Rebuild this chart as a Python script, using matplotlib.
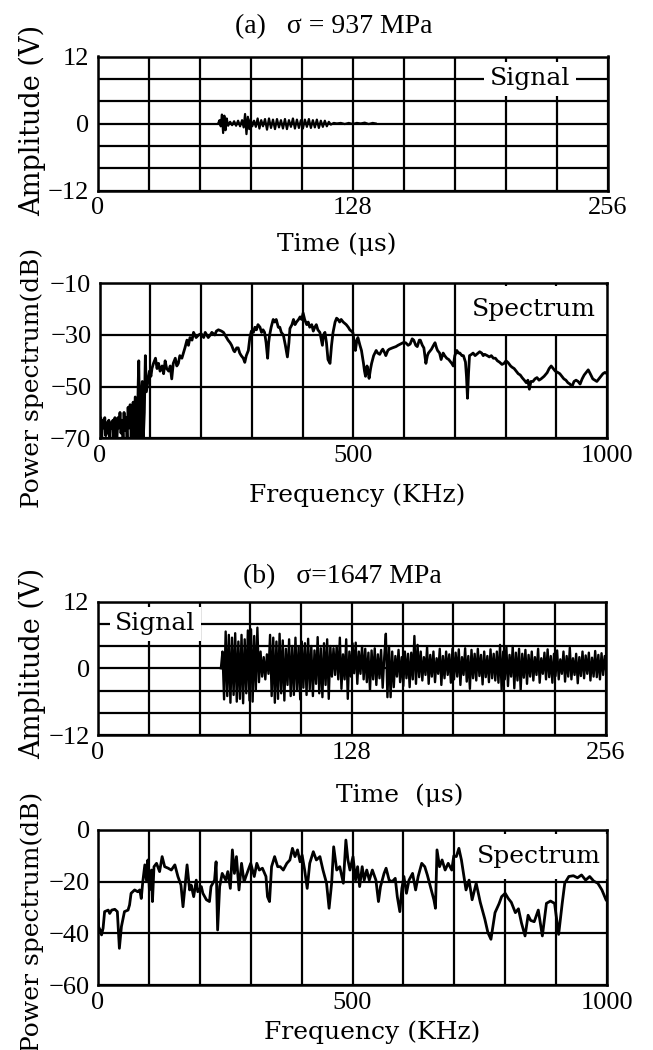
import matplotlib
matplotlib.use("Agg")
import matplotlib.pyplot as plt
import numpy as np

# ---------------- data ----------------
titles = ["(a)   σ = 937 MPa", "(b)   σ=1647 MPa"]
time_ticks = [0, 128, 256]
freq_ticks = [0, 500, 1000]
amp_ticks = [-12, 0, 12]
spec_a_ticks = [-70, -50, -30, -10]
spec_b_ticks = [-60, -40, -20, 0]

# (a) signal : burst times (us) and amplitudes (V)
sig_a_t = [60.5, 61.2, 61.8, 62.4, 63.0, 63.6, 64.2, 64.8, 65.5, 66.5, 67.5, 68.5, 69.5,
           70.5, 71.5, 72.5, 73.3, 74.0, 74.7, 75.4, 76.1, 76.8, 77.6, 78.5, 79.4, 80.3,
           81.2, 82.1, 83.0, 84.0, 85.0, 86.0, 87.0, 88.0, 89.0, 90.0, 91.0, 92.0, 93.0,
           94.0, 95.0, 96.0, 97.0, 98.0, 99.0, 100.0, 101.0, 102.0, 103.0, 104.0, 105.0,
           106.0, 107.0, 108.0, 109.0, 110.0, 111.0, 112.0, 113.0, 114.0, 115.0, 116.0,
           117.0, 118.5, 120, 122, 124, 126, 128, 130, 132, 134, 136, 138, 139.5]
sig_a_v = [0, 0.6, -0.5, 1.6, -1.7, 1.4, -1.2, 0.9, -0.4, 0.3, -0.3, 0.4, -0.4,
           0.5, -0.5, 0.6, -0.7, 1.7, -1.9, 1.2, -1.0, 0.8, -0.5, 0.5, -0.6, 0.9,
           -0.9, 0.6, -0.5, 0.8, -1.1, 0.9, -0.8, 0.7, -1.0, 0.8, -0.7, 0.6, -0.9,
           0.8, -1.0, 0.6, -0.6, 0.9, -0.9, 0.7, -0.8, 0.6, -0.9, 0.7, -0.6,
           0.8, -0.8, 0.6, -0.7, 0.7, -0.8, 0.5, -0.6, 0.5, -0.5, 0.3,
           -0.2, 0.1, 0, 0.1, -0.1, 0.1, -0.1, 0.1, 0, 0.15, -0.1, 0.1, 0]

# (b) signal : samples from 62 us every 0.8 us (V)
sig_b_start = 62.0
sig_b_step = 0.8
sig_b_v = [0, 3.0, -5.6,
           6.6, -5.0, 6.0, -6.2, 5.5, -4.8, 6.3, -6.0, 4.8, -5.5, 6.0, -6.3, 5.2, -4.5, 6.8,
           -5.8, 7.0, -6.0,
           5.8, -4.0, 7.3, -2.5, 3.0, -1.5, 2.0, -2.0, 2.5, -1.0,
           6.0, -5.0, 5.5, -6.2, 4.8, -5.5, 6.2,
           -4.5, 5.0, -5.8, 3.5, -3.0, 5.2, -5.0, 4.0, -4.8, 5.5, -4.0, 3.8, -5.6, 4.8, -3.5, 4.5,
           -4.8, 5.3, -3.8, 4.0, -5.0, 3.2, -2.8, 5.6, -4.5, 3.6, -5.2, 4.5, -3.0,
           5.2, -5.5, 4.0, -1.5, 3.6, -1.2, 4.0, -2.0,
           5.5, -3.7, 2.5, -2.0, 5.2, -5.5, 3.0, -1.5, 4.5,
           -0.9, 4.6, -2.8, 3.0, -1.0, 4.0, -2.0,
           3.5, -2.5, 2.8, -4.0, 3.2, -2.0, 3.6, -3.0, 2.5, -1.8, 3.3, -3.5, 2.0,
           6.2, -5.2, 4.0, -5.2,
           3.0, -3.4, 2.2, -1.5, 3.3, -2.5, 2.0, -3.2, 3.0, -1.8, 2.6, -3.4, 2.8, -2.0,
           5.8, -2.8, 4.2, -1.6,
           3.0, -2.2, 2.0, -1.2, 3.8, -2.8, 2.4, -1.5, 3.0, -2.5, 1.8, -1.0, 3.5, -3.0, 2.2,
           -1.8, 3.0, -1.2, 2.5, -2.6,
           3.5, -2.0, 2.8, -1.5, 3.4, -3.0, 2.0, -1.2, 3.6, -2.4, 2.2, -3.7, 3.3, -1.8, 2.6,
           -2.2, 3.5, -1.4, 2.4, -2.9, 3.0, -1.6, 2.2, -2.5, 3.4,
           -1.8, 2.6, -2.2, 3.0, -2.6,
           4.2, -3.9, 3.0, -2.0, 3.8, -3.2, 2.4, -1.5, 4.0, -3.6, 2.8, -2.2, 3.5, -3.9, 2.6,
           -1.7, 3.3, -2.8, 2.4,
           -1.5, 3.0, -2.2, 2.0, -1.2, 3.5, -2.6, 1.8, -1.0, 2.8, -2.0, 3.4, -1.6, 2.2, -2.6,
           2.6, -1.4, 3.2, -2.0, 1.6, -1.0, 3.0, -2.4, 2.2, -1.5, 3.7, -2.0, 1.8, -1.2, 2.6,
           -2.7, 2.0, -1.4, 3.0, -1.8, 2.3, -1.0, 2.8, -2.2, 1.9, -1.5, 3.1, -1.6, 2.4, -2.0,
           2.7, -1.2, 2.2, -0.8]

# (a) spectrum : frequency (kHz), power (dB)
spec_a_f = [0, 2, 4, 6, 8, 10, 12, 14, 16, 18, 20, 22, 24, 26, 28, 30, 32, 34, 36, 38, 40,
            42, 44, 46, 48, 50, 52, 54, 56, 58, 60, 62, 64, 66, 68, 70, 72, 74, 76, 77, 78,
            80, 82, 84, 86, 88, 90, 92, 95, 98, 101, 103, 106, 110, 113, 116, 119, 123, 126,
            129, 132, 136, 139, 142, 145, 149, 152, 155, 158, 162, 165, 168, 172, 175, 178,
            182, 185, 190, 195, 200, 205, 208, 214, 218, 221, 227, 230, 234, 240, 244, 247,
            253, 257, 260, 264, 266, 270, 273, 276, 279, 283, 286, 289, 293, 296, 299, 303,
            306, 309, 312, 316, 319, 322, 325, 328, 331, 333, 335, 338, 342, 345, 348, 352,
            355, 358, 362, 366, 370, 373, 375, 379, 382, 385, 388, 392, 395, 398, 401, 404,
            408, 411, 414, 418, 421, 424, 427, 430, 434, 436, 439, 441, 444, 447, 450, 454,
            457, 460, 464, 467, 470, 473, 476, 480, 483, 486, 490, 493, 496, 499, 502, 504,
            507, 509, 513, 516, 520, 522, 524, 527, 529, 531, 534, 536, 540, 545, 548, 552,
            556, 558, 562, 564, 568, 571, 577, 584, 588, 593, 598, 603, 608, 612, 616, 619,
            623, 626, 630, 632, 636, 639, 641, 643, 646, 648, 654, 658, 661, 664, 666, 670,
            673, 677, 680, 684, 688, 690, 694, 697, 700, 704, 707, 710, 714, 717, 721, 723,
            725, 727, 729, 733, 736, 740, 743, 746, 749, 753, 756, 759, 764, 768, 772, 776,
            780, 784, 788, 793, 797, 801, 805, 810, 813, 817, 821, 825, 829, 833, 837, 841,
            844, 847, 850, 854, 858, 862, 866, 870, 876, 882, 886, 890, 894, 898, 903, 907,
            911, 915, 919, 923, 927, 931, 935, 939, 943, 947, 951, 955, 959, 963, 967, 972,
            976, 980, 984, 988, 992, 996, 1000]
spec_a_db = [-70, -62, -70, -63, -66, -62, -69, -64, -68, -63, -70, -64, -66, -63, -70, -62,
             -68, -70, -62, -66, -60, -68, -63, -70, -60, -67, -62, -70, -58, -66, -57, -70,
             -60, -56, -70, -54, -62, -70, -48, -40, -55, -70, -52, -48, -70, -60, -38, -52,
             -48, -44, -46, -43, -41, -39, -43, -41, -44, -42, -45, -40, -43, -44, -42, -47,
             -41, -39, -42, -41, -38, -39, -37, -35, -32, -34, -31, -32, -29, -31, -30, -29.5,
             -31, -29, -31, -30, -29, -30, -28.5, -28, -28.5, -29, -30, -32, -33, -34, -36,
             -36.5, -35, -35, -37, -38, -39, -40.6, -38, -36, -31, -28.5, -29, -27, -28, -26,
             -27, -29, -28, -29, -33, -39, -33, -30, -27, -24, -25, -24, -27, -27, -29, -30,
             -34, -38.5, -33, -27.5, -26, -24, -26, -25, -24, -23, -24, -21.5, -24, -26, -25,
             -27, -26, -28.5, -27, -26, -28, -29, -31, -34, -30, -29, -33, -39.5, -41, -34,
             -29, -25, -23.5, -24, -25, -24, -25, -25.5, -26, -27, -28, -28.5, -29, -33, -36,
             -32, -31, -34, -36, -41, -44, -46, -42, -44, -46.8, -43, -41, -38, -36, -37,
             -37.5, -36, -35.5, -37, -38, -36, -35.5, -35, -34.5, -34, -33.5, -33, -33, -34,
             -33.5, -31.5, -32, -34, -34.5, -32, -32, -34, -35, -38, -41, -38, -37, -35.5,
             -34, -33, -35, -36, -37, -39.5, -37, -38, -39, -39.5, -40, -41, -42, -38, -36,
             -37, -37, -38, -38, -40.5, -46, -54.5, -45, -38, -37.5, -37, -38, -37.5, -37,
             -36.5, -37, -38, -37.5, -38, -38.5, -38, -39, -39, -40, -40.5, -41.4, -41, -40,
             -40.7, -42, -42.5, -43, -44, -45, -45.5, -46.6, -47.5, -48.5, -47.5, -51, -48,
             -48, -47, -46.5, -47.5, -47, -46, -44.6, -43, -42, -43, -44, -44.5, -45, -46,
             -47, -47.5, -48.5, -49, -50, -48, -47.5, -48, -49, -47, -45.5, -44.5, -43.5,
             -45, -47, -47.5, -48, -47, -46, -45, -44.5, -45]

# (b) spectrum : frequency (kHz), power (dB)
spec_b_f = [0, 1, 4, 7, 10, 13, 20, 23, 27, 33,
            38, 42, 46, 52, 59, 62, 65, 72, 78, 82,
            85, 88, 92, 95, 98, 101, 105, 107, 110, 115,
            121, 126, 131, 138, 144, 151, 157, 163, 167, 172,
            175, 180, 183, 188, 193, 196, 203, 206, 213, 219,
            222, 229, 232, 235, 239, 244, 251, 255, 260, 264,
            268, 272, 277, 282, 287, 294, 300, 307, 312, 317,
            323, 330, 333, 337, 341, 347, 353, 358, 364, 371,
            377, 382, 387, 392, 397, 401, 406, 411, 416, 423,
            429, 436, 442, 449, 454, 459, 463, 469, 475, 482,
            487, 491, 495, 501, 506, 510, 514, 519, 523, 528,
            533, 539, 546, 551, 555, 562, 566, 572, 578, 584,
            588, 593, 597, 601, 606, 611, 618, 624, 629, 636,
            642, 647, 653, 660, 663, 666, 671, 676, 682, 688,
            695, 699, 704, 709, 714, 717, 723, 729, 735, 743,
            751, 760, 766, 772, 780, 788, 793, 800, 806, 812,
            820, 826, 832, 839, 845, 850, 857, 865, 869, 873,
            881, 889, 897, 905, 912, 917, 925, 934, 942, 950,
            958, 966, 974, 982, 990, 998, 1000]
spec_b_db = [-27, -37.4, -38.7, -40.6, -38, -31.6, -31, -32.3, -31, -30.7,
             -31.6, -45.8, -37.4, -31.6, -31, -29, -24.5, -23.2, -23.9, -23.2,
             -26.5, -20, -13.5, -19.4, -11.6, -23.2, -15.5, -27.7, -14.2, -12.9,
             -16.1, -10.3, -14.2, -14.8, -15.5, -13.5, -18, -21.3, -29.7, -19.4,
             -13.5, -23.2, -21.3, -25.8, -19.4, -23.9, -21.9, -24.5, -27, -27.7,
             -21.9, -19.4, -12.3, -38.7, -21.9, -16.8, -19.4, -16.1, -22.6, -7.7,
             -16.8, -10.3, -23.2, -12.9, -20, -16.1, -12.9, -18, -12.9, -15.5,
             -14.8, -18, -25.8, -27.7, -14.2, -10.3, -14.2, -14.2, -15.5, -12.9,
             -11.6, -7.1, -10.3, -7.7, -12.3, -9.7, -15.5, -22.6, -12.9, -8.4,
             -11.6, -10.3, -15.5, -20.6, -30.3, -20.6, -6.5, -15.5, -14.2, -20.6,
             -3.9, -11.6, -15.5, -10.3, -19.4, -14.2, -21.9, -14.2, -19.4, -15.5,
             -19.4, -15.5, -19.4, -27.7, -21.9, -16.8, -14.8, -19.4, -20, -18.7,
             -25.8, -31.6, -22.6, -18, -24.5, -19.4, -16.8, -23.2, -18, -12.9,
             -14.2, -17.4, -21.9, -27.1, -30.3, -7.7, -14.2, -11.6, -15.5, -12.9,
             -15.5, -10, -10.3, -7.1, -11.6, -15.5, -23.2, -19.4, -27, -20.6,
             -28, -34.5, -39.7, -42.3, -32, -28.5, -25.8, -24.5, -26.5, -28,
             -32, -30.5, -36, -41, -33, -35, -35.5, -31, -36, -41,
             -28.4, -27.5, -28.4, -40.4, -28.4, -20.6, -18, -17.7, -18.5, -17.4,
             -19.4, -18, -19.8, -20.6, -23.2, -27, -27.5]

# ---------------- figure ----------------
W, H = 653, 1050
fig = plt.figure(figsize=(W / 100, H / 100), dpi=100)
fig.patch.set_facecolor("white")

TICKFONT = dict(family="Liberation Serif", size=19)
LABFONT = dict(family="DejaVu Serif", size=18)
AMPFONT = dict(family="DejaVu Serif", size=19.5)


def px_axes(l, t, r, b):
    return fig.add_axes([l / W, 1 - b / H, (r - l) / W, (b - t) / H])


def style(ax, xgrid, xlabels, ygrid, ylabels):
    ax.set_xticks(xgrid)
    ax.set_xticklabels(xlabels, **TICKFONT)
    ax.set_yticks(ygrid)
    ax.set_yticklabels(ylabels, **TICKFONT)
    ax.tick_params(axis="y", length=0, pad=6)
    ax.tick_params(axis="x", length=0, pad=5)
    ax.grid(True, color="black", linewidth=1.6)
    ax.set_axisbelow(True)
    for s in ax.spines.values():
        s.set_linewidth(1.8)


def fmt(v):
    return str(v).replace("-", "\u2212")


def tick_labels(grid, shown):
    return [fmt(g) if g in shown else "" for g in grid]


time_grid = [25.6 * i for i in range(11)]
time_grid_lab = [fmt(time_ticks[[0, 5, 10].index(i)]) if i in (0, 5, 10) else "" for i in range(11)]
freq_grid = list(range(0, 1001, 100))
amp_grid = list(range(-12, 13, 4))


def signal_axes(ax, t, v, lw):
    ax.plot(t, v, color="black", linewidth=lw, zorder=3)
    ax.set_xlim(0, 256)
    ax.set_ylim(-12, 12)
    style(ax, time_grid, time_grid_lab, amp_grid, tick_labels(amp_grid, amp_ticks))


def spec_axes(ax, f, db, ylim, yticks):
    ax.plot(f, db, color="black", linewidth=2.0, zorder=3)
    ax.set_xlim(0, 1000)
    ax.set_ylim(*ylim)
    style(ax, freq_grid, tick_labels(freq_grid, freq_ticks), yticks,
          [fmt(y) for y in yticks])


box = dict(facecolor="white", edgecolor="none", pad=4)

# (a) signal
ax1 = px_axes(97.5, 56.5, 608, 190.5)
signal_axes(ax1, sig_a_t, sig_a_v, 1.6)
ax1.text(216.8, 8, "Signal", ha="center", va="center", bbox=box, zorder=2, **LABFONT)

# (a) spectrum
ax2 = px_axes(99.7, 283.3, 607, 438.3)
spec_axes(ax2, spec_a_f, spec_a_db, (-70, -10), spec_a_ticks)
ax2.text(855, -20.3, "Spectrum", ha="center", va="center", zorder=2,
         bbox=dict(facecolor="white", edgecolor="none", pad=9), **LABFONT)

# (b) signal
ax3 = px_axes(98, 601.5, 605.5, 735)
sig_b_t = sig_b_start + sig_b_step * np.arange(len(sig_b_v))
signal_axes(ax3, sig_b_t, sig_b_v, 1.7)
ax3.text(28.9, 8, "Signal", ha="center", va="center", bbox=box, zorder=2, **LABFONT)

# (b) spectrum
ax4 = px_axes(98, 830, 607, 985)
spec_axes(ax4, spec_b_f, spec_b_db, (-60, 0), spec_b_ticks)
ax4.text(866, -10.3, "Spectrum", ha="center", va="center", zorder=2,
         bbox=dict(facecolor="white", edgecolor="none", pad=8), **LABFONT)


def ftext(x, y, s, rot=0, **kw):
    fig.text(x / W, 1 - y / H, s, rotation=rot, ha="center", va="center", **kw)


ftext(334, 27, titles[0], family="Liberation Serif", size=20)
ftext(342, 577, titles[1], family="Liberation Serif", size=20)

ftext(32, 120, "Amplitude (V)", rot=90, **AMPFONT)
ftext(32, 378, "Power spectrum(dB)", rot=90, **LABFONT)
ftext(32, 663, "Amplitude (V)", rot=90, **AMPFONT)
ftext(32, 922, "Power spectrum(dB)", rot=90, **LABFONT)

ftext(337, 244, "Time (μs)", **LABFONT)
ftext(357, 495, "Frequency (KHz)", **LABFONT)
ftext(400, 795, "Time  (μs)", **LABFONT)
ftext(372, 1032, "Frequency (KHz)", **LABFONT)

fig.savefig("out.png", dpi=100, facecolor="white")
